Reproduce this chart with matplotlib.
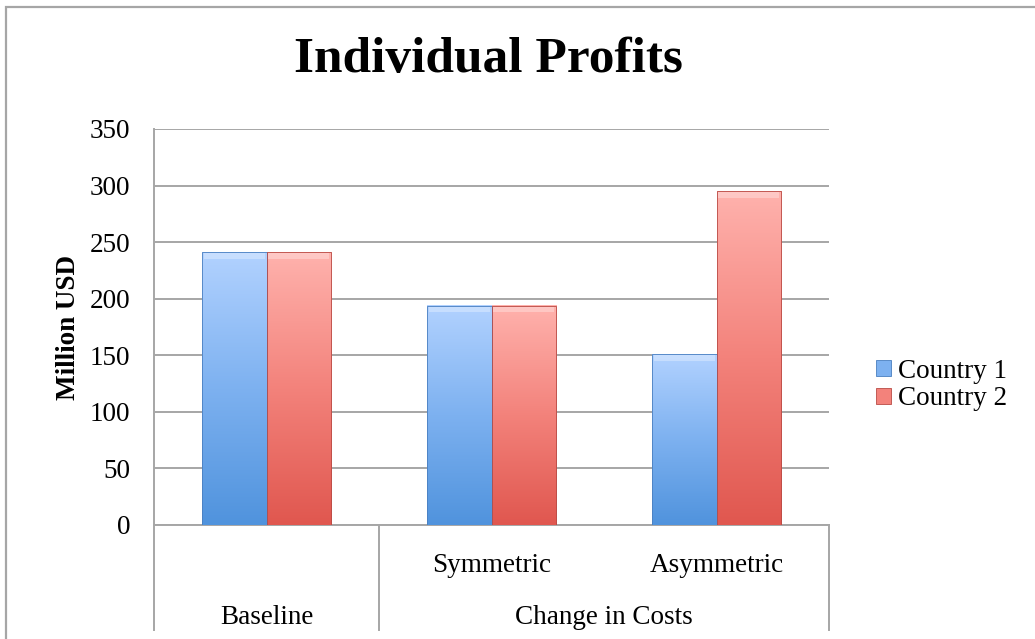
import numpy as np
import matplotlib.pyplot as plt
from matplotlib.colors import LinearSegmentedColormap
from matplotlib.patches import Rectangle
from matplotlib.lines import Line2D
import matplotlib.transforms as mtransforms

sub_labels = ['', 'Symmetric', 'Asymmetric']
groups = ['Baseline', 'Change in Costs']
group_span = [(0, 0), (1, 2)]
country1 = [241, 194, 151]
country2 = [241, 194, 295]
series = ['Country 1', 'Country 2']
yticks = [0, 50, 100, 150, 200, 250, 300, 350]

plt.rcParams['font.family'] = ['Liberation Serif', 'DejaVu Serif']
grey = '#a6a6a6'
fs = 19.5

fig = plt.figure(figsize=(10.35, 6.39), dpi=100)
ax = fig.add_axes([154 / 1035, 1 - 525 / 639, (829 - 154) / 1035, (525 - 129) / 639])

# outer chart frame
fig.patches.append(Rectangle((6 / 1035, -0.1), 2, 1 - 7 / 639 + 0.1, transform=fig.transFigure,
                             fill=False, edgecolor=grey, linewidth=1.6))

x = np.arange(len(sub_labels))
w = 0.285
b1 = ax.bar(x - w / 2, country1, w, color='none', edgecolor='none', zorder=3)
b2 = ax.bar(x + w / 2, country2, w, color='none', edgecolor='none', zorder=3)

cm1 = LinearSegmentedColormap.from_list('c1', ['#5093dd', '#7db1f0', '#b2d2ff'])
cm2 = LinearSegmentedColormap.from_list('c2', ['#e0574f', '#f3827b', '#ffb2ad'])
grad = np.linspace(0, 1, 256).reshape(-1, 1)
for bars, cm, edge in [(b1, cm1, '#4a7fc0'), (b2, cm2, '#b94b45')]:
    for p in bars:
        x0, h, bw = p.get_x(), p.get_height(), p.get_width()
        ax.imshow(grad, extent=[x0, x0 + bw, 0, h], origin='lower', cmap=cm,
                  aspect='auto', zorder=3, interpolation='bicubic')
        ax.add_patch(Rectangle((x0, 0), bw, h, fill=False, edgecolor=edge,
                               linewidth=0.6, zorder=4))
        # light bevel at the top
        ax.add_patch(Rectangle((x0 + bw * 0.03, h - 6), bw * 0.94, 5, color='white',
                               alpha=0.3, linewidth=0, zorder=4))

ax.set_xlim(-0.5, 2.5)
ax.set_ylim(0, 350)
ax.set_yticks(yticks)
ax.tick_params(axis='y', labelsize=fs, length=0, pad=17)
ax.set_xticks([])
ax.yaxis.grid(True, color=grey, linewidth=1.4)
ax.set_axisbelow(True)
for s in ['top', 'right']:
    ax.spines[s].set_visible(False)
for s in ['left', 'bottom']:
    ax.spines[s].set_color(grey)
    ax.spines[s].set_linewidth(1.4)

ax.set_ylabel('Million USD', fontsize=fs, fontweight='bold', labelpad=6)
fig.text(0.5 * (154 + 829) / 1035 - 0.003, 1 - 60 / 639, 'Individual Profits',
         fontsize=37, fontweight='bold', ha='center', va='center')

# two-level category axis
tr = mtransforms.blended_transform_factory(ax.transData, ax.transAxes)
depth = (630 - 525) / (525 - 129)
for xv in [-0.5, 0.5, 2.5]:
    ax.add_line(Line2D([xv, xv], [0, -depth], transform=tr, color=grey,
                       linewidth=1.4, clip_on=False))
for xi, lab in zip(x, sub_labels):
    ax.text(xi, -(565 - 525) / 396, lab, transform=tr, ha='center', va='center', fontsize=fs)
for g, (a, b) in zip(groups, group_span):
    ax.text((a + b) / 2, -(617 - 525) / 396, g, transform=tr, ha='center', va='center', fontsize=fs)

# legend
handles = [Rectangle((0, 0), 1, 1, facecolor='#7db1f0', edgecolor='#4a7fc0', linewidth=0.6),
           Rectangle((0, 0), 1, 1, facecolor='#f3827b', edgecolor='#b94b45', linewidth=0.6)]
fig.legend(handles, series, loc='center left', bbox_to_anchor=(876 / 1035, 1 - 385 / 639),
           frameon=False, fontsize=fs, handlelength=0.55, handleheight=0.55,
           handletextpad=0.25, labelspacing=0.1, borderaxespad=0, borderpad=0)

fig.savefig('out.png', dpi=100)
